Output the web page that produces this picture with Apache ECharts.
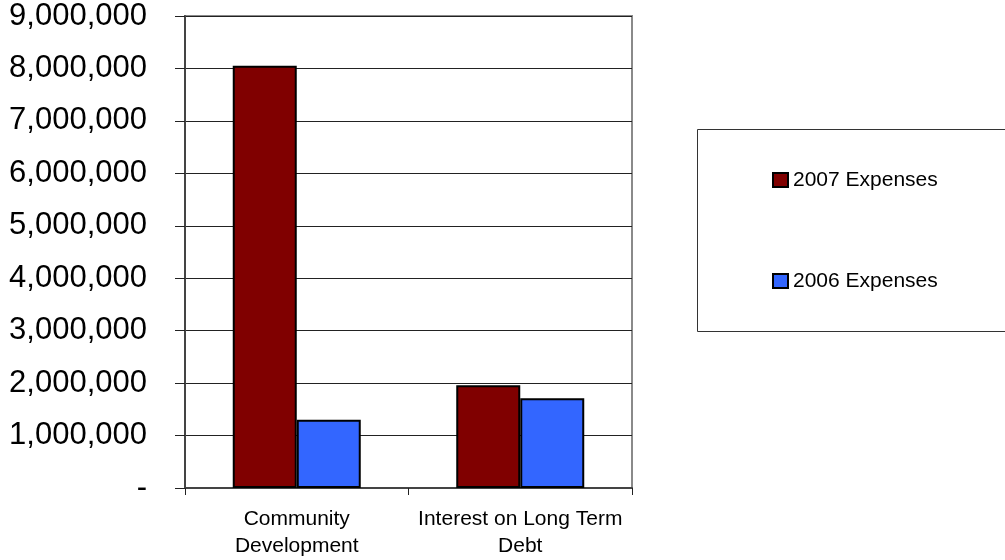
<!DOCTYPE html>
<html>
<head>
<meta charset="utf-8">
<script src="https://cdn.jsdelivr.net/npm/echarts@6/dist/echarts.min.js"></script>
<style>html,body{margin:0;padding:0;background:#fff}#c{width:1005px;height:560px}</style>
</head>
<body>
<div id="c"></div>
<script>
var categories = ['Community\nDevelopment', 'Interest on Long Term\nDebt'];
var expenses2007 = [8050000, 1960000];
var expenses2006 = [1300000, 1710000];
var seriesNames = ['2007 Expenses', '2006 Expenses'];
var yMin = 0, yMax = 9000000, yInterval = 1000000;

var FONT = '"Liberation Sans", Arial, sans-serif';
var chart = echarts.init(document.getElementById('c'));
chart.setOption({
  animation: false,
  backgroundColor: '#fff',
  grid: {
    left: 185, top: 16, width: 447, height: 472,
    show: true, borderColor: '#8a8a8a', borderWidth: 2, backgroundColor: 'transparent'
  },
  graphic: [{
    type: 'rect', left: 697, top: 129, z: -1,
    shape: { width: 320, height: 202 },
    style: { fill: '#fff', stroke: '#333', lineWidth: 1 }
  }],
  legend: {
    orient: 'vertical', left: 772, top: 168, padding: 0,
    itemWidth: 15, itemHeight: 14, itemGap: 77,
    icon: 'rect',
    textStyle: { fontFamily: FONT, fontSize: 21, color: '#000', lineHeight: 24 },
    data: seriesNames
  },
  xAxis: {
    type: 'category', data: categories,
    axisLine: { lineStyle: { color: '#444', width: 2 } },
    axisTick: { show: true, length: 7, lineStyle: { color: '#222', width: 1 } },
    axisLabel: { fontFamily: FONT, fontSize: 21, color: '#000', lineHeight: 27, margin: 18, interval: 0 }
  },
  yAxis: {
    type: 'value', min: yMin, max: yMax, interval: yInterval,
    axisLine: { show: true, lineStyle: { color: '#444', width: 2 } },
    axisTick: { show: true, length: 10, lineStyle: { color: '#222', width: 1 } },
    splitLine: { show: true, lineStyle: { color: '#222', width: 1 } },
    axisLabel: {
      fontFamily: FONT, fontSize: 31, color: '#000', margin: 38,
      formatter: function (v) { return v === 0 ? '-' : v.toLocaleString('en-US'); }
    }
  },
  series: [
    { name: seriesNames[0], type: 'bar', data: expenses2007, barWidth: 64, barGap: '0%',
      itemStyle: { color: '#800000', borderColor: '#000', borderWidth: 2 } },
    { name: seriesNames[1], type: 'bar', data: expenses2006, barWidth: 64, barGap: '0%',
      itemStyle: { color: '#3366ff', borderColor: '#000', borderWidth: 2 } }
  ]
});
</script>
</body>
</html>
